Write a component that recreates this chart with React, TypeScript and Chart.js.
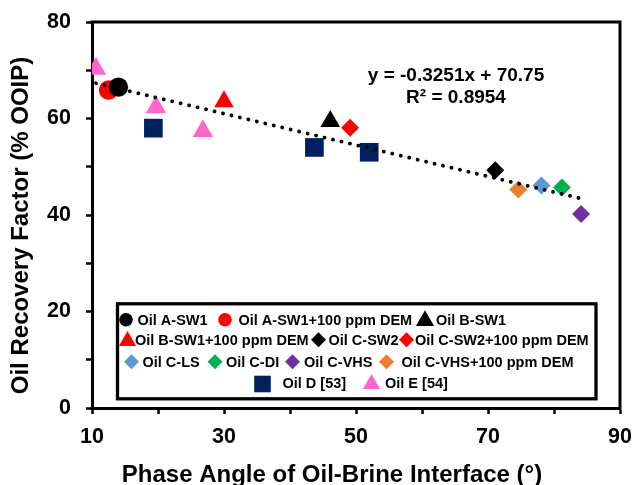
import React, { useEffect, useRef } from 'react';
import { Chart, registerables } from 'chart.js';

Chart.register(...registerables);

const FONT = "'Liberation Sans', Arial, Helvetica, sans-serif";

// ---------------- data ----------------
const seriesNames = [
  'Oil A-SW1',
  'Oil A-SW1+100 ppm DEM',
  'Oil B-SW1',
  'Oil B-SW1+100 ppm DEM',
  'Oil C-SW2',
  'Oil C-SW2+100 ppm DEM',
  'Oil C-LS',
  'Oil C-DI',
  'Oil C-VHS',
  'Oil C-VHS+100 ppm DEM',
  'Oil D [53]',
  'Oil E [54]',
];

// phase angle (deg) / oil recovery factor (% OOIP)
const angleASW1 = [14.0];
const recASW1 = [66.5];
const angleASW1DEM = [12.5];
const recASW1DEM = [65.9];
const angleBSW1 = [46.1];
const recBSW1 = [59.4];
const angleBSW1DEM = [30.0];
const recBSW1DEM = [63.5];
const angleCSW2 = [71.1];
const recCSW2 = [49.3];
const angleCSW2DEM = [49.1];
const recCSW2DEM = [58.1];
const angleCLS = [78.1];
const recCLS = [46.1];
const angleCDI = [81.2];
const recCDI = [45.7];
const angleCVHS = [84.1];
const recCVHS = [40.2];
const angleCVHSDEM = [74.6];
const recCVHSDEM = [45.3];
const angleD = [19.3, 43.7, 52.0];
const recD = [58.0, 54.0, 53.0];
const angleE = [10.6, 19.7, 26.8];
const recE = [70.3, 62.3, 57.4];

const trendSlope = -0.3251;
const trendIntercept = 70.75;
const trendRange = [10.6, 84.1];
const equationLines = ['y = -0.3251x + 70.75', 'R\u00b2 = 0.8954'];

const xTickLabels = [10, 30, 50, 70, 90];
const yTickLabels = [0, 20, 40, 60, 80];
const xTitle = 'Phase Angle of Oil-Brine Interface (\u00b0)';
const yTitle = 'Oil Recovery Factor (% OOIP)';

// ---------------- styles ----------------
type Series = { label: string; xs: number[]; ys: number[]; style: string; color: string; r: number; lr: number };

const SERIES: Series[] = [
  { label: seriesNames[0], xs: angleASW1, ys: recASW1, style: 'circle', color: '#000000', r: 9.7, lr: 6.8 },
  { label: seriesNames[1], xs: angleASW1DEM, ys: recASW1DEM, style: 'circle', color: '#FF0000', r: 9.7, lr: 6.8 },
  { label: seriesNames[2], xs: angleBSW1, ys: recBSW1, style: 'triangle', color: '#000000', r: 11.3, lr: 10.5 },
  { label: seriesNames[3], xs: angleBSW1DEM, ys: recBSW1DEM, style: 'triangle', color: '#FF0000', r: 11.3, lr: 10 },
  { label: seriesNames[4], xs: angleCSW2, ys: recCSW2, style: 'rectRot', color: '#000000', r: 9, lr: 7.5 },
  { label: seriesNames[5], xs: angleCSW2DEM, ys: recCSW2DEM, style: 'rectRot', color: '#FF0000', r: 9, lr: 7.5 },
  { label: seriesNames[6], xs: angleCLS, ys: recCLS, style: 'rectRot', color: '#5B9BD5', r: 9, lr: 7.5 },
  { label: seriesNames[7], xs: angleCDI, ys: recCDI, style: 'rectRot', color: '#00B050', r: 9, lr: 7.5 },
  { label: seriesNames[8], xs: angleCVHS, ys: recCVHS, style: 'rectRot', color: '#7030A0', r: 9, lr: 7.5 },
  { label: seriesNames[9], xs: angleCVHSDEM, ys: recCVHSDEM, style: 'rectRot', color: '#ED7D31', r: 9, lr: 7.5 },
  { label: seriesNames[10], xs: angleD, ys: recD, style: 'rect', color: '#002060', r: 13.2, lr: 8.3 },
  { label: seriesNames[11], xs: angleE, ys: recE, style: 'triangle', color: '#FF66CC', r: 11.8, lr: 10 },
];

// legend layout: [series index, row, marker centre x, text start x]
const LEGEND_ROWS = [325, 345, 367, 388];
const LEGEND_ITEMS: [number, number, number, number][] = [
  [0, 0, 126, 137.5],
  [1, 0, 225, 238.5],
  [2, 0, 425, 436],
  [3, 1, 127.5, 135],
  [4, 1, 318.5, 328.5],
  [5, 1, 406.5, 415],
  [6, 2, 131.5, 142.5],
  [7, 2, 215, 226],
  [8, 2, 292.5, 304],
  [9, 2, 386.5, 401.5],
  [10, 3, 262.5, 282.5],
  [11, 3, 371.5, 385],
];

function drawMarker(ctx: CanvasRenderingContext2D, style: string, x: number, y: number, r: number, color: string) {
  ctx.save();
  ctx.fillStyle = color;
  ctx.beginPath();
  if (style === 'circle') {
    ctx.arc(x, y, r, 0, Math.PI * 2);
  } else if (style === 'triangle') {
    ctx.moveTo(x, y - r);
    ctx.lineTo(x + r * Math.sin((2 * Math.PI) / 3), y - r * Math.cos((2 * Math.PI) / 3));
    ctx.lineTo(x + r * Math.sin((4 * Math.PI) / 3), y - r * Math.cos((4 * Math.PI) / 3));
    ctx.closePath();
  } else if (style === 'rectRot') {
    ctx.moveTo(x - r, y);
    ctx.lineTo(x, y - r);
    ctx.lineTo(x + r, y);
    ctx.lineTo(x, y + r);
    ctx.closePath();
  } else {
    ctx.rect(x - r, y - r, 2 * r, 2 * r);
  }
  ctx.fill();
  ctx.restore();
}

const decorPlugin = {
  id: 'decor',
  afterDraw(chart: any) {
    const ctx: CanvasRenderingContext2D = chart.ctx;
    const { left, right, top, bottom } = chart.chartArea;
    ctx.save();
    // top & right frame of plot area
    ctx.strokeStyle = '#000';
    ctx.lineWidth = 3;
    ctx.lineCap = 'square';
    ctx.beginPath();
    ctx.moveTo(left, top);
    ctx.lineTo(right, top);
    ctx.lineTo(right, bottom);
    ctx.stroke();

    // trendline equation
    ctx.fillStyle = '#000';
    ctx.textAlign = 'center';
    ctx.textBaseline = 'alphabetic';
    ctx.font = `bold 19px ${FONT}`;
    ctx.fillText(equationLines[0], 456, 81);
    ctx.fillText(equationLines[1], 456, 103);

    // axis titles
    ctx.font = `bold 24px ${FONT}`;
    ctx.fillText(xTitle, 332, 482);
    ctx.save();
    ctx.translate(21.7, 225.5);
    ctx.rotate(-Math.PI / 2);
    ctx.textBaseline = 'middle';
    ctx.fillText(yTitle, 0, 0);
    ctx.restore();

    // legend box
    ctx.fillStyle = '#fff';
    ctx.fillRect(117.5, 303.8, 478.5, 95);
    ctx.strokeStyle = '#000';
    ctx.lineWidth = 3.3;
    ctx.lineCap = 'butt';
    ctx.strokeRect(117.5, 303.8, 478.5, 95);

    ctx.font = `bold 14.5px ${FONT}`;
    ctx.textAlign = 'left';
    ctx.textBaseline = 'alphabetic';
    for (const [si, row, mx, tx] of LEGEND_ITEMS) {
      const s = SERIES[si];
      const base = LEGEND_ROWS[row];
      let cy = base - 5.3;
      if (s.style === 'triangle') cy = base + 1 - s.lr / 2;
      if (s.style === 'rect') cy = base - 4;
      drawMarker(ctx, s.style, mx, cy, s.lr, s.color);
      ctx.fillStyle = '#000';
      ctx.fillText(s.label, tx, base);
    }
    ctx.restore();
  },
};

export default function App() {
  const ref = useRef<HTMLCanvasElement>(null);

  useEffect(() => {
    const canvas = ref.current;
    if (!canvas) return;

    const datasets: any[] = SERIES.map((s) => ({
      type: 'scatter',
      label: s.label,
      data: s.xs.map((x, i) => ({ x, y: s.ys[i] })),
      pointStyle: s.style,
      pointRadius: s.r,
      pointHoverRadius: s.r,
      backgroundColor: s.color,
      borderColor: s.color,
      pointBorderWidth: 0,
      borderWidth: 0,
      showLine: false,
      order: 1,
    }));
    datasets.push({
      type: 'scatter',
      label: 'Linear trend',
      data: trendRange.map((x) => ({ x, y: trendSlope * x + trendIntercept })),
      showLine: true,
      borderColor: '#000',
      backgroundColor: '#000',
      borderWidth: 3.8,
      borderDash: [0.1, 8.6],
      borderCapStyle: 'round',
      pointRadius: 0,
      pointHoverRadius: 0,
      fill: false,
      order: 0,
    });

    const tickFont = { family: FONT, size: 21.5, weight: 'bold' as const };

    const chart = new Chart(canvas, {
      type: 'scatter',
      data: { datasets },
      options: {
        responsive: false,
        animation: false,
        devicePixelRatio: 1,
        layout: { padding: { left: 0, top: 22, right: 15, bottom: 0 } },
        plugins: {
          legend: { display: false },
          tooltip: { enabled: false },
          title: { display: false },
        },
        scales: {
          x: {
            type: 'linear',
            position: 'bottom',
            min: 10,
            max: 90,
            afterFit: (s: any) => {
              s.height = 77;
              s.paddingLeft = 0;
              s.paddingRight = 0;
            },
            ticks: {
              stepSize: 10,
              autoSkip: false,
              maxRotation: 0,
              padding: 10,
              color: '#000',
              font: tickFont,
              callback: (v: any) => (xTickLabels.includes(Number(v)) ? String(v) : ''),
            },
            grid: {
              display: true,
              drawOnChartArea: false,
              drawTicks: true,
              tickLength: 6,
              tickWidth: 2.5,
              tickColor: '#000',
            },
            border: { display: true, color: '#000', width: 3 },
          },
          y: {
            type: 'linear',
            min: 0,
            max: 80,
            afterFit: (s: any) => {
              s.width = 92;
              s.paddingTop = 0;
              s.paddingBottom = 0;
            },
            ticks: {
              stepSize: 10,
              autoSkip: false,
              padding: 15,
              color: '#000',
              font: tickFont,
              callback: (v: any) => (yTickLabels.includes(Number(v)) ? String(v) : ''),
            },
            grid: {
              display: true,
              drawOnChartArea: false,
              drawTicks: true,
              tickLength: 6,
              tickWidth: 2.5,
              tickColor: '#000',
            },
            border: { display: true, color: '#000', width: 3 },
          },
        },
      } as any,
      plugins: [decorPlugin],
    });

    return () => chart.destroy();
  }, []);

  return (
    <div style={{ position: 'fixed', left: 0, top: 0, width: 635, height: 485, background: '#fff' }}>
      <canvas ref={ref} width={635} height={485} style={{ display: 'block', width: 635, height: 485 }} />
    </div>
  );
}
